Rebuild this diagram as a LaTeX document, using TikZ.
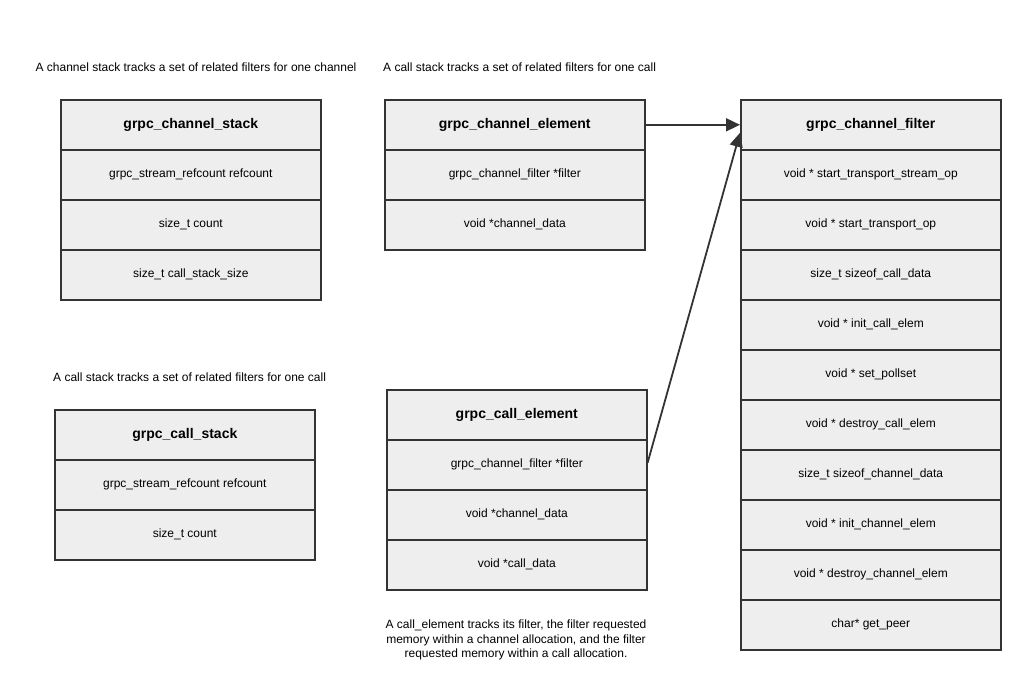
\documentclass[tikz,border=0pt]{standalone}
\usepackage{fontspec}
\setmainfont{Liberation Sans}
\usetikzlibrary{arrows.meta,calc}
\definecolor{bordc}{HTML}{333333}
\definecolor{fillc}{HTML}{EEEEEE}
\tikzset{
  rowbox/.style={draw=bordc, fill=fillc, line width=1.6pt, minimum width=260pt, minimum height=50pt, anchor=north west, inner sep=0pt, font=\fontsize{12}{14}\selectfont},
  headbox/.style={rowbox, font=\bfseries\fontsize{14}{16}\selectfont},
  note/.style={font=\fontsize{12}{14}\selectfont, inner sep=0pt},
  arr/.style={draw=bordc, line width=1.8pt, -{Triangle[length=14pt,width=13pt]}}
}
\begin{document}
\begin{tikzpicture}[x=1pt,y=-1pt]
\useasboundingbox (0,0) rectangle (1020,682);
% notes
\node[note] (n1) at (196,67) {A channel stack tracks a set of related filters for one channel};
\node[note, anchor=west] (n2) at (383,67) {A call stack tracks a set of related filters for one call};
\node[note, anchor=west] (n3) at (53,377) {A call stack tracks a set of related filters for one call};
\node[note, align=center, font=\fontsize{12}{14.5}\selectfont] (n4) at (516,640) {A call\_element tracks its filter, the filter requested\\memory within a channel allocation, and the filter\\requested memory within a call allocation.};
% grpc_channel_stack
\node[headbox] (cs1) at (60,99) {grpc\_channel\_stack};
\node[rowbox] (cs2) at (60,149) {grpc\_stream\_refcount refcount};
\node[rowbox] (cs3) at (60,199) {size\_t count};
\node[rowbox] (cs4) at (60,249) {size\_t call\_stack\_size};
% grpc_call_stack
\node[headbox] (ks1) at (54,409) {grpc\_call\_stack};
\node[rowbox] (ks2) at (54,459) {grpc\_stream\_refcount refcount};
\node[rowbox] (ks3) at (54,509) {size\_t count};
% grpc_channel_element
\node[headbox] (ce1) at (384,99) {grpc\_channel\_element};
\node[rowbox] (ce2) at (384,149) {grpc\_channel\_filter *filter};
\node[rowbox] (ce3) at (384,199) {void *channel\_data};
% grpc_call_element
\node[headbox] (cl1) at (386,389) {grpc\_call\_element};
\node[rowbox] (cl2) at (386,439) {grpc\_channel\_filter *filter};
\node[rowbox] (cl3) at (386,489) {void *channel\_data};
\node[rowbox] (cl4) at (386,539) {void *call\_data};
% grpc_channel_filter
\node[headbox] (cf1) at (740,99) {grpc\_channel\_filter};
\node[rowbox] (cf2) at (740,149) {void * start\_transport\_stream\_op};
\node[rowbox] (cf3) at (740,199) {void * start\_transport\_op};
\node[rowbox] (cf4) at (740,249) {size\_t sizeof\_call\_data};
\node[rowbox] (cf5) at (740,299) {void * init\_call\_elem};
\node[rowbox] (cf6) at (740,349) {void * set\_pollset};
\node[rowbox] (cf7) at (740,399) {void * destroy\_call\_elem};
\node[rowbox] (cf8) at (740,449) {size\_t sizeof\_channel\_data};
\node[rowbox] (cf9) at (740,499) {void * init\_channel\_elem};
\node[rowbox] (cf10) at (740,549) {void * destroy\_channel\_elem};
\node[rowbox] (cf11) at (740,599) {char* get\_peer};
% connectors
\coordinate (cftip) at ($(cf1.west)+(0,8)$);
\draw[arr] (ce1.east) -- (cf1.west);
\draw[arr] ($(cl2.east)+(0,-2)$) -- (cftip);
\end{tikzpicture}
\end{document}
